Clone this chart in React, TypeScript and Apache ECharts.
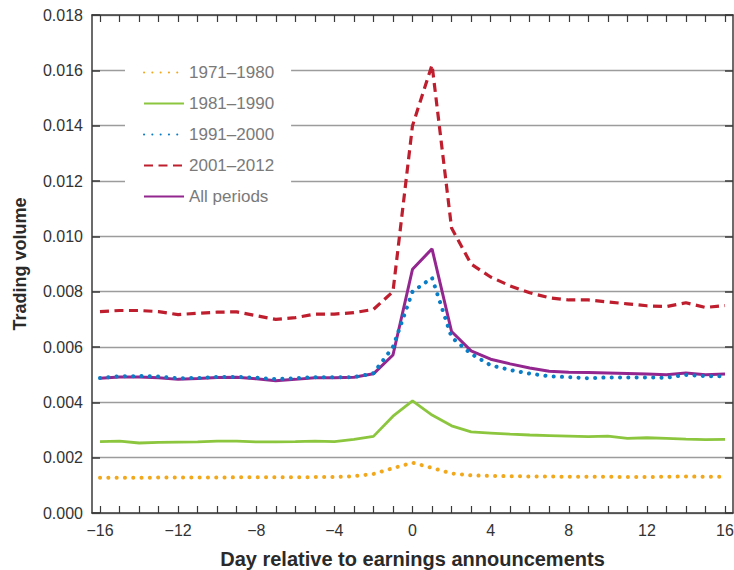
import React, { useEffect, useRef } from "react";
import * as echarts from "echarts";

const days = [-16, -15, -14, -13, -12, -11, -10, -9, -8, -7, -6, -5, -4, -3, -2, -1, 0, 1, 2, 3, 4, 5, 6, 7, 8, 9, 10, 11, 12, 13, 14, 15, 16];

const p1971 = [0.00127, 0.00127, 0.00127, 0.00128, 0.00128, 0.00128, 0.00128, 0.00129, 0.00129, 0.00129, 0.00129, 0.0013, 0.0013, 0.00133, 0.00141, 0.00162, 0.00182, 0.00163, 0.00143, 0.00136, 0.00134, 0.00133, 0.00132, 0.00132, 0.00131, 0.00131, 0.00131, 0.0013, 0.0013, 0.00131, 0.00132, 0.00131, 0.00131];
const p1981 = [0.00258, 0.0026, 0.00253, 0.00255, 0.00256, 0.00257, 0.0026, 0.0026, 0.00257, 0.00257, 0.00258, 0.0026, 0.00258, 0.00266, 0.00277, 0.0035, 0.00405, 0.00354, 0.00315, 0.00293, 0.00289, 0.00285, 0.00282, 0.0028, 0.00278, 0.00276, 0.00278, 0.0027, 0.00272, 0.0027, 0.00267, 0.00265, 0.00266];
const p1991 = [0.00488, 0.00494, 0.00495, 0.00493, 0.00487, 0.00488, 0.00492, 0.00492, 0.00489, 0.00484, 0.00487, 0.00491, 0.00491, 0.00491, 0.00505, 0.006, 0.008, 0.0085, 0.00635, 0.00575, 0.00534, 0.00517, 0.00504, 0.00494, 0.00491, 0.00487, 0.0049, 0.0049, 0.0049, 0.00489, 0.00499, 0.00495, 0.00494];
const p2001 = [0.00728, 0.00732, 0.00732, 0.00728, 0.00717, 0.00722, 0.00726, 0.00727, 0.00713, 0.007, 0.00706, 0.00719, 0.00719, 0.00724, 0.00736, 0.008, 0.014, 0.0162, 0.0103, 0.009, 0.00853, 0.00821, 0.00796, 0.00778, 0.0077, 0.0077, 0.00763, 0.00756, 0.00749, 0.00746, 0.0076, 0.00743, 0.0075];
const pAll = [0.00487, 0.00492, 0.00492, 0.00489, 0.00483, 0.00486, 0.0049, 0.00491, 0.00485, 0.00478, 0.00483, 0.00489, 0.00489, 0.00491, 0.00503, 0.00571, 0.00881, 0.00955, 0.00656, 0.00586, 0.00556, 0.00539, 0.00524, 0.00512, 0.00509, 0.00508, 0.00506, 0.00504, 0.00502, 0.005, 0.00506, 0.005, 0.00502];

const seriesNames = ["1971\u20131980", "1981\u20131990", "1991\u20132000", "2001\u20132012", "All periods"];

const FONT = '"Liberation Sans", Arial, sans-serif';
const AXIS_COLOR = "#3a3a3a";

const pairs = (vals: number[]) => days.map((d, i) => [d, vals[i]]);

export default function App() {
  const ref = useRef<HTMLDivElement>(null);
  useEffect(() => {
    const chart = echarts.init(ref.current!, null, { renderer: "svg" });
    const frameX = { min: 0, max: 1, show: true, axisTick: { show: false }, axisLabel: { show: false }, splitLine: { show: false } };
    const lineSeries = (name: string, vals: number[], color: string, lineStyle: any) => ({
      name,
      type: "line",
      xAxisIndex: 0,
      yAxisIndex: 0,
      symbol: "none",
      data: pairs(vals),
      lineStyle: { color, ...lineStyle },
      itemStyle: { color, opacity: 0 },
    });
    chart.setOption({
      animation: false,
      backgroundColor: "#ffffff",
      textStyle: { fontFamily: FONT },
      grid: [
        { left: 100, right: 9, top: 15, bottom: 57, containLabel: false, outerBoundsMode: "none" },
        { left: 92, right: 1, top: 15, bottom: 57, containLabel: false, outerBoundsMode: "none" },
      ],
      xAxis: [
        {
          gridIndex: 0,
          type: "value",
          min: -16,
          max: 16,
          interval: 1,
          position: "bottom",
          axisLine: { show: false },
          axisTick: { show: true, inside: true, length: 7, lineStyle: { color: AXIS_COLOR, width: 1.2 } },
          axisLabel: {
            fontSize: 16,
            color: "#333",
            margin: 9,
            fontFamily: FONT,
            formatter: (v: number) => (v % 4 === 0 ? (v < 0 ? "\u2212" + Math.abs(v) : String(v)) : ""),
          },
          splitLine: { show: false },
          name: "Day relative to earnings announcements",
          nameLocation: "middle",
          nameGap: 36,
          nameTextStyle: { fontSize: 20, fontWeight: "bold", color: "#2a2a2a", fontFamily: FONT },
        },
        {
          gridIndex: 0,
          type: "value",
          min: -16,
          max: 16,
          interval: 1,
          position: "top",
          axisLine: { show: false },
          axisTick: { show: true, inside: true, length: 7, lineStyle: { color: AXIS_COLOR, width: 1.2 } },
          axisLabel: { show: false },
          splitLine: { show: false },
        },
        {
          gridIndex: 1,
          type: "value",
          position: "bottom",
          ...frameX,
          axisLine: { show: true, onZero: false, lineStyle: { color: AXIS_COLOR, width: 1.5 } },
        },
        {
          gridIndex: 1,
          type: "value",
          position: "top",
          ...frameX,
          axisLine: { show: true, onZero: false, lineStyle: { color: AXIS_COLOR, width: 1.5 } },
        },
      ],
      yAxis: [
        { gridIndex: 0, type: "value", min: 0, max: 0.018, show: false },
        {
          gridIndex: 1,
          type: "value",
          min: 0,
          max: 0.018,
          interval: 0.002,
          position: "left",
          axisLine: { show: true, onZero: false, lineStyle: { color: AXIS_COLOR, width: 1.5 } },
          axisTick: { show: true, inside: true, length: 8, lineStyle: { color: AXIS_COLOR, width: 1.5 } },
          axisLabel: { fontSize: 16, color: "#333", margin: 9, fontFamily: FONT, formatter: (v: number) => v.toFixed(3) },
          splitLine: { show: true, lineStyle: { color: "#9c9c9c", width: 1.3 } },
          name: "Trading volume",
          nameLocation: "middle",
          nameGap: 63,
          nameTextStyle: { fontSize: 18, fontWeight: "bold", color: "#2a2a2a", fontFamily: FONT },
        },
        {
          gridIndex: 1,
          type: "value",
          min: 0,
          max: 0.018,
          interval: 0.002,
          position: "right",
          axisLine: { show: true, onZero: false, lineStyle: { color: AXIS_COLOR, width: 1.5 } },
          axisTick: { show: true, inside: true, length: 8, lineStyle: { color: AXIS_COLOR, width: 1.5 } },
          axisLabel: { show: false },
          splitLine: { show: false },
        },
      ],
      legend: {
        orient: "vertical",
        left: 125,
        top: 56,
        itemWidth: 40,
        itemHeight: 14,
        itemGap: 14,
        padding: [8, 17, 8, 18],
        backgroundColor: "#ffffff",
        selectedMode: false,
        itemStyle: { opacity: 0 },
        textStyle: { color: "#7a7a7a", fontSize: 17, fontFamily: FONT },
        data: seriesNames,
      },
      series: [
        lineSeries(seriesNames[0], p1971, "#F2A81D", { width: 4, type: [0.1, 8.2], cap: "round" }),
        lineSeries(seriesNames[1], p1981, "#8CC63F", { width: 2.8, type: "solid" }),
        lineSeries(seriesNames[4], pAll, "#93278F", { width: 3, type: "solid" }),
        lineSeries(seriesNames[3], p2001, "#BE1E2D", { width: 3.2, type: [9, 5.5] }),
        lineSeries(seriesNames[2], p1991, "#0A7DC6", { width: 4, type: [0.1, 8.2], cap: "round" }),
      ],
    });
    return () => chart.dispose();
  }, []);
  return <div ref={ref} style={{ position: "fixed", left: 0, top: 0, width: 734, height: 570 }} />;
}
